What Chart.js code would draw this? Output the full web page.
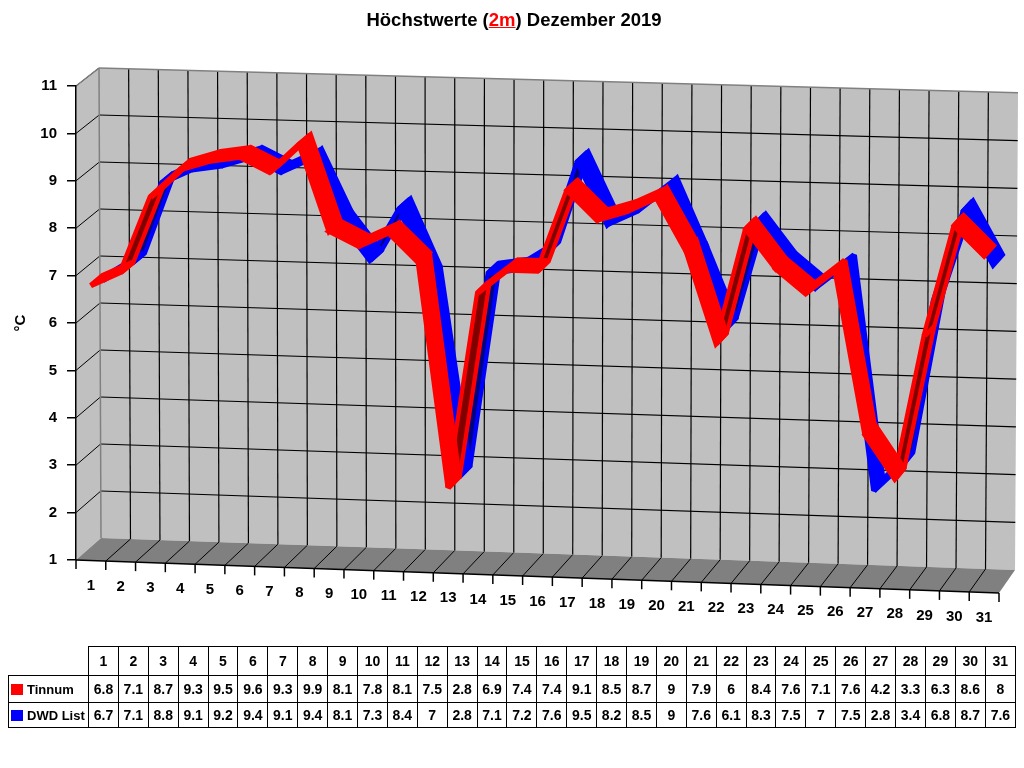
<!DOCTYPE html>
<html>
<head>
<meta charset="utf-8">
<script src="https://cdn.jsdelivr.net/npm/chart.js@4/dist/chart.umd.min.js"></script>
<style>
  body{margin:0;background:#fff;font-family:"Liberation Sans",Arial,sans-serif;}
  #wrap{position:relative;width:1024px;height:768px;overflow:hidden;}
  #c{position:absolute;left:0;top:0;}
  #title{position:absolute;top:9px;left:0;width:1028px;text-align:center;font-weight:bold;font-size:18.5px;line-height:22px;color:#000;}
  #title span{color:#f00;text-decoration:underline;}
  #tbl{position:absolute;left:8px;top:646px;width:1008px;border-collapse:collapse;table-layout:fixed;font-weight:bold;font-size:14px;color:#000;}
  #tbl td{border:1.5px solid #000;text-align:center;padding:0;white-space:nowrap;overflow:hidden;}
  #tbl td.blank{border-top:none;border-left:none;}
  #tbl td.lab{text-align:left;font-size:13px;padding-left:2px;}
  #tbl .key{display:inline-block;width:12px;height:11px;margin-right:4px;vertical-align:-1px;}
</style>
</head>
<body>
<div id="wrap">
  <canvas id="c" width="1024" height="768"></canvas>
  <div id="title">Höchstwerte (<span>2m</span>) Dezember 2019</div>
  <table id="tbl"></table>
</div>
<script>
// ---------------- data ----------------
const days = [1,2,3,4,5,6,7,8,9,10,11,12,13,14,15,16,17,18,19,20,21,22,23,24,25,26,27,28,29,30,31];
const tinnum = [6.8,7.1,8.7,9.3,9.5,9.6,9.3,9.9,8.1,7.8,8.1,7.5,2.8,6.9,7.4,7.4,9.1,8.5,8.7,9,7.9,6,8.4,7.6,7.1,7.6,4.2,3.3,6.3,8.6,8];
const dwdList = [6.7,7.1,8.8,9.1,9.2,9.4,9.1,9.4,8.1,7.3,8.4,7,2.8,7.1,7.2,7.6,9.5,8.2,8.5,9,7.6,6.1,8.3,7.5,7,7.5,2.8,3.4,6.8,8.7,7.6];
const seriesNames = ['Tinnum','DWD List'];
const seriesColors = ['#FF0000','#0000FF'];
const seriesDark = ['#800000','#000080'];
const yTickValues = [1,2,3,4,5,6,7,8,9,10,11];

// ---------------- table ----------------
(function(){
  const t = document.getElementById('tbl');
  let h = '<colgroup><col style="width:80px">' + days.map(()=>'<col>').join('') + '</colgroup>';
  h += '<tr style="height:29px"><td class="blank"></td>' + days.map(d=>'<td>'+d+'</td>').join('') + '</tr>';
  const rows = [tinnum, dwdList];
  const hs = [27,25];
  rows.forEach((r,k)=>{
    h += '<tr style="height:'+hs[k]+'px"><td class="lab"><span class="key" style="background:'+seriesColors[k]+'"></span>'+seriesNames[k]+'</td>' +
      r.map(v=>'<td>'+v+'</td>').join('') + '</tr>';
  });
  t.innerHTML = h;
})();

// ---------------- 3D geometry helper ----------------
const GEO = {
  slopeTop: 0.028, slopeBot: 0.0358,
  back: { tl:[23,-18], tr:[19,-19], bl:[25,-22], br:[16,-23] }
};
function proj(chart, xv, yv, z){
  const a = chart.chartArea, xs = chart.scales.x, ys = chart.scales.y;
  const X = xs.getPixelForValue(xv), Y = ys.getPixelForValue(yv);
  const fx = (X - a.left)/(a.right - a.left), fy = (Y - a.top)/(a.bottom - a.top);
  const sl = GEO.slopeTop + (GEO.slopeBot - GEO.slopeTop)*fy;
  const fX = X, fY = Y + sl*(X - a.left);
  const b = GEO.back;
  const ox = (b.tl[0]*(1-fx)+b.tr[0]*fx)*(1-fy) + (b.bl[0]*(1-fx)+b.br[0]*fx)*fy;
  const oy = (b.tl[1]*(1-fx)+b.tr[1]*fx)*(1-fy) + (b.bl[1]*(1-fx)+b.br[1]*fx)*fy;
  return {x: fX + z*ox, y: fY + z*oy};
}
function line(ctx,p,q){ctx.beginPath();ctx.moveTo(p.x,p.y);ctx.lineTo(q.x,q.y);ctx.stroke();}
function poly(ctx,pts){ctx.beginPath();ctx.moveTo(pts[0].x,pts[0].y);for(let i=1;i<pts.length;i++)ctx.lineTo(pts[i].x,pts[i].y);ctx.closePath();}

const threeD = {
  id:'threeD',
  beforeDraw(chart){
    const ctx = chart.ctx;
    const x0 = chart.scales.x.min, x1 = chart.scales.x.max;
    const y0 = chart.scales.y.min, y1 = chart.scales.y.max;
    const P = (xv,yv,z)=>proj(chart,xv,yv,z);
    ctx.save();
    // back wall
    ctx.fillStyle = '#C0C0C0';
    poly(ctx,[P(x0,y1,1),P(x1,y1,1),P(x1,y0,1),P(x0,y0,1)]); ctx.fill();
    // left wall
    poly(ctx,[P(x0,y1,0),P(x0,y1,1),P(x0,y0,1),P(x0,y0,0)]); ctx.fill();
    // grid on back wall
    ctx.strokeStyle = '#000'; ctx.lineWidth = 1.2;
    yTickValues.forEach(v=>{ if(v>y0 && v<y1) line(ctx,P(x0,v,1),P(x1,v,1)); });
    for(let b=x0+1;b<x1-0.01;b++){ line(ctx,P(b,y0,1),P(b,y1,1)); }
    // grid on left wall
    ctx.lineWidth = 1;
    yTickValues.forEach(v=>{ if(v>y0 && v<=y1) line(ctx,P(x0,v,0),P(x0,v,1)); });
    // floor
    ctx.fillStyle = '#808080';
    poly(ctx,[P(x0,y0,0),P(x0,y0,1),P(x1,y0,1),P(x1,y0,0)]); ctx.fill();
    ctx.strokeStyle = '#000'; ctx.lineWidth = 1;
    for(let b=x0+1;b<=x1-0.01;b++){ line(ctx,P(b,y0,0),P(b,y0,1)); }
    // edges
    ctx.strokeStyle = '#808080'; ctx.lineWidth = 1.5;
    line(ctx,P(x0,y1,0),P(x0,y1,1));
    line(ctx,P(x0,y1,1),P(x1,y1,1));
    line(ctx,P(x0,y1,1),P(x0,y0,1));
    // front floor edge + ticks
    ctx.strokeStyle = '#000'; ctx.lineWidth = 1.5;
    line(ctx,P(x0,y0,0),P(x1,y0,0));
    for(let b=x0;b<=x1+0.01;b++){ const p=P(b,y0,0); line(ctx,p,{x:p.x,y:p.y+9}); }
    // x labels
    ctx.fillStyle = '#000';
    ctx.font = 'bold 15px "Liberation Sans", Arial, sans-serif';
    ctx.textAlign = 'center'; ctx.textBaseline = 'middle';
    days.forEach(d=>{ const p=P(d,y0,0); ctx.fillText(String(d), p.x, p.y+25); });
    ctx.restore();
  },
  afterDatasetsDraw(chart){
    const ctx = chart.ctx;
    const ribbons = [
      {vals:dwdList, z0:0.5, z1:1.0, c:seriesColors[1], d:seriesDark[1]},
      {vals:tinnum,  z0:0.0, z1:0.5, c:seriesColors[0], d:seriesDark[0]}
    ];
    ctx.save();
    ctx.lineJoin = 'miter'; ctx.miterLimit = 2;
    ribbons.forEach(r=>{
      const segs = [];
      for(let i=0;i<days.length-1;i++){
        const A=proj(chart,days[i],r.vals[i],r.z0), B=proj(chart,days[i+1],r.vals[i+1],r.z0);
        const C=proj(chart,days[i+1],r.vals[i+1],r.z1), D=proj(chart,days[i],r.vals[i],r.z1);
        const cross = (B.x-A.x)*(D.y-A.y) - (B.y-A.y)*(D.x-A.x);
        segs.push({pts:[A,B,C,D], under: cross>0});
      }
      // undersides first, then top faces
      segs.filter(s=>s.under).forEach(s=>{
        poly(ctx,s.pts); ctx.strokeStyle=r.c; ctx.lineWidth=6; ctx.stroke();
        ctx.fillStyle=r.d; ctx.fill();
        ctx.lineWidth=2.5; ctx.stroke();
      });
      segs.filter(s=>!s.under).forEach(s=>{
        poly(ctx,s.pts); ctx.fillStyle=r.c; ctx.fill();
        ctx.strokeStyle=r.c; ctx.lineWidth=5.5; ctx.stroke();
      });
    });
    ctx.restore();
  }
};

new Chart(document.getElementById('c'), {
  type:'line',
  data:{
    datasets:[
      {label:seriesNames[0], data:days.map((d,i)=>({x:d,y:tinnum[i]})), borderColor:'rgba(0,0,0,0)', backgroundColor:seriesColors[0], borderWidth:0, pointRadius:0, showLine:false},
      {label:seriesNames[1], data:days.map((d,i)=>({x:d,y:dwdList[i]})), borderColor:'rgba(0,0,0,0)', backgroundColor:seriesColors[1], borderWidth:0, pointRadius:0, showLine:false}
    ]
  },
  options:{
    responsive:false, animation:false, devicePixelRatio:1,
    layout:{padding:{left:0, top:86, right:25, bottom:208}},
    plugins:{legend:{display:false}, title:{display:false}, tooltip:{enabled:false}},
    scales:{
      x:{type:'linear', min:0.5, max:31.5, display:false},
      y:{type:'linear', min:1, max:11,
         afterFit:(s)=>{ s.width = 76; },
         afterBuildTicks:(s)=>{ s.ticks = yTickValues.map(v=>({value:v})); },
         ticks:{color:'#000', font:{family:'Liberation Sans', size:15, weight:'bold'}, padding:10},
         grid:{drawOnChartArea:false, drawTicks:true, tickLength:9, color:'#000', lineWidth:1.5},
         border:{display:true, color:'#000', width:1.5},
         title:{display:true, text:'°C', color:'#000', font:{family:'Liberation Sans', size:15, weight:'bold'}, padding:{top:12,bottom:0}}
      }
    }
  },
  plugins:[threeD]
});
</script>
</body>
</html>
